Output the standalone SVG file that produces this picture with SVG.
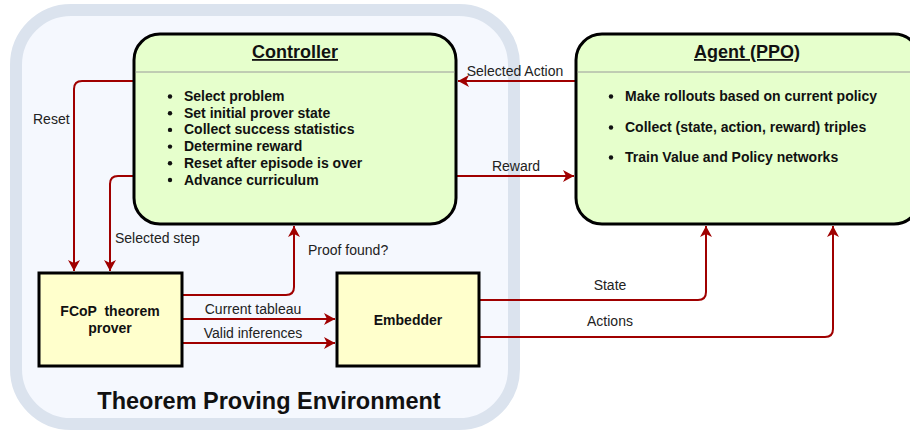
<svg xmlns="http://www.w3.org/2000/svg" width="910" height="431" viewBox="0 0 910 431">
<style>
text{font-family:"Liberation Sans",Arial,sans-serif;fill:#111}
.title{font-size:18px;font-weight:bold;text-decoration:underline}
.bul{font-size:14px;font-weight:bold}
.lbl{font-size:14px;fill:#222}
.box{font-size:14px;font-weight:bold;white-space:pre}
.rnd{fill:#e6ffcc;stroke:#000;stroke-width:3}
.sq{fill:#ffffcc;stroke:#000;stroke-width:3}
.sep{stroke:#9a9a9a;stroke-width:1}
.dot{fill:#111}
.conn{fill:none;stroke:#a00000;stroke-width:2;marker-end:url(#arr)}
</style>
<defs>
<marker id="arr" markerUnits="userSpaceOnUse" markerWidth="14" markerHeight="12" refX="11" refY="6" orient="auto">
<path d="M0,0 L11,6 L0,12 L3,6 z" fill="#a00000"/>
</marker>
</defs>
<rect width="910" height="431" fill="#fff"/>
<g id="environment">
<rect x="16" y="10" width="498" height="414" rx="55" fill="#f5f8fe" stroke="#dbe3ee" stroke-width="12"/>
<text x="269" y="409" text-anchor="middle" style="font-size:23.5px;font-weight:bold">Theorem Proving Environment</text>
</g>
<g id="connectors">
<path class="conn" d="M133,81 H82 Q74,81 74,89 V271"/>
<path class="conn" d="M133,176 H118 Q110,176 110,184 V271"/>
<path class="conn" d="M183,295 H286 Q294,295 294,287 V226"/>
<path class="conn" d="M183,319 H335"/>
<path class="conn" d="M183,343 H335"/>
<path class="conn" d="M480,300 H698 Q706,300 706,292 V226"/>
<path class="conn" d="M480,337 H825 Q833,337 833,329 V226"/>
<path class="conn" d="M575,81 H458"/>
<path class="conn" d="M457,176 H574"/>
<text class="lbl" x="33" y="124">Reset</text>
<text class="lbl" x="115" y="243">Selected step</text>
<text class="lbl" x="308" y="255">Proof found?</text>
<text class="lbl" x="253" y="314" text-anchor="middle">Current tableau</text>
<text class="lbl" x="253" y="338" text-anchor="middle">Valid inferences</text>
<text class="lbl" x="515" y="76" text-anchor="middle">Selected Action</text>
<text class="lbl" x="516" y="171" text-anchor="middle">Reward</text>
<text class="lbl" x="610" y="290" text-anchor="middle">State</text>
<text class="lbl" x="610" y="326" text-anchor="middle">Actions</text>
</g>
<g id="controller">
<rect class="rnd" x="134" y="34" width="322" height="190" rx="26"/>
<line class="sep" x1="135.5" y1="72" x2="454.5" y2="72"/>
<text class="title" x="295" y="58" text-anchor="middle">Controller</text>
<circle class="dot" cx="170" cy="96.5" r="2.2"/>
<circle class="dot" cx="170" cy="113.2" r="2.2"/>
<circle class="dot" cx="170" cy="129.9" r="2.2"/>
<circle class="dot" cx="170" cy="146.6" r="2.2"/>
<circle class="dot" cx="170" cy="163.3" r="2.2"/>
<circle class="dot" cx="170" cy="180" r="2.2"/>
<text class="bul" x="184" y="101">Select problem</text>
<text class="bul" x="184" y="117.7">Set initial prover state</text>
<text class="bul" x="184" y="134.4">Collect success statistics</text>
<text class="bul" x="184" y="151.1">Determine reward</text>
<text class="bul" x="184" y="167.8">Reset after episode is over</text>
<text class="bul" x="184" y="184.5">Advance curriculum</text>
</g>
<g id="agent">
<rect class="rnd" x="576" y="34" width="344" height="190" rx="26"/>
<line class="sep" x1="577.5" y1="72" x2="910" y2="72"/>
<text class="title" x="747" y="58" text-anchor="middle">Agent (PPO)</text>
<circle class="dot" cx="611" cy="96.5" r="2.2"/>
<circle class="dot" cx="611" cy="127.5" r="2.2"/>
<circle class="dot" cx="611" cy="157.5" r="2.2"/>
<text class="bul" x="625" y="101">Make rollouts based on current policy</text>
<text class="bul" x="625" y="132">Collect (state, action, reward) triples</text>
<text class="bul" x="625" y="162">Train Value and Policy networks</text>
</g>
<g id="fcop">
<rect class="sq" x="39" y="273" width="143" height="93"/>
<text class="box" x="110" y="316" text-anchor="middle">FCoP  theorem</text>
<text class="box" x="110" y="333" text-anchor="middle">prover</text>
</g>
<g id="embedder">
<rect class="sq" x="337" y="273" width="142" height="93"/>
<text class="box" x="408" y="325" text-anchor="middle">Embedder</text>
</g>
</svg>
